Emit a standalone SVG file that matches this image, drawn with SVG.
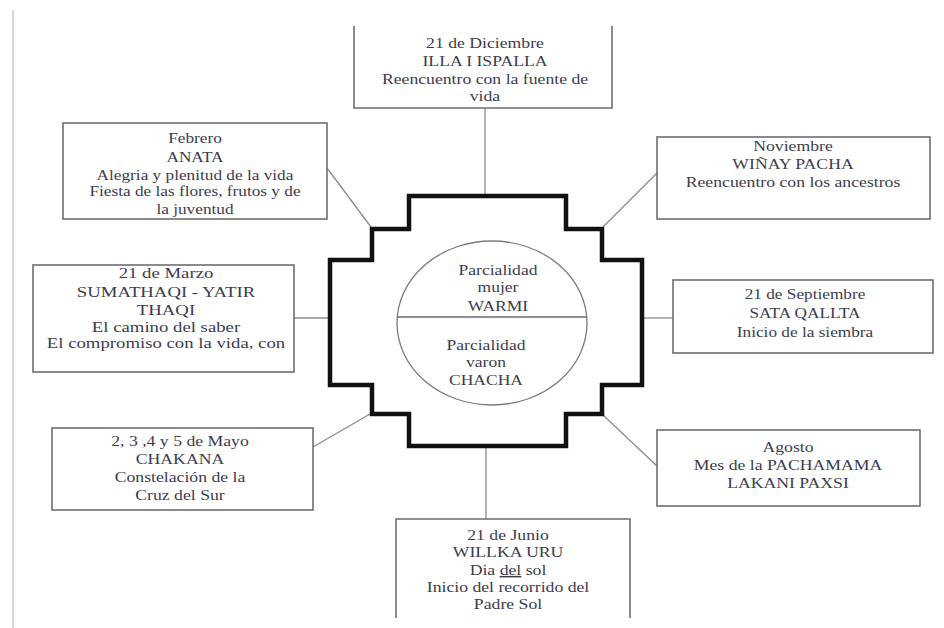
<svg xmlns="http://www.w3.org/2000/svg" width="944" height="628" viewBox="0 0 944 628">
<style>
.box{fill:#fff;stroke:#6e6e72;stroke-width:1.6}
.open{fill:none;stroke:#6e6e72;stroke-width:1.6}
.conn{stroke:#8a8a90;stroke-width:1.3;fill:none}
.t{font-family:"Liberation Serif","Times New Roman",serif;font-size:15px;fill:#3c3c4e;text-anchor:middle}
.chakana{fill:#fff;stroke:#111;stroke-width:4.5;stroke-linejoin:miter}
</style>
<rect x="0" y="0" width="944" height="628" fill="#fff"/>
<line x1="13" y1="10" x2="13" y2="628" stroke="#c8c8cc" stroke-width="1.5"/>

<g id="connectors">
<line class="conn" x1="485" y1="108" x2="485" y2="196"/>
<line class="conn" x1="327" y1="168" x2="371" y2="227"/>
<line class="conn" x1="658" y1="172" x2="603" y2="227"/>
<line class="conn" x1="294" y1="318" x2="330" y2="318"/>
<line class="conn" x1="642" y1="318" x2="673" y2="318"/>
<line class="conn" x1="370" y1="414" x2="313" y2="447"/>
<line class="conn" x1="603" y1="415" x2="657" y2="466"/>
<line class="conn" x1="486" y1="446" x2="486" y2="519"/>
</g>

<g id="chakana">
<path class="chakana" d="M409,196 H566 V229 H602 V260 H642 V385 H602 V414 H566 V446 H409 V414 H372 V385 H330 V260 H372 V229 H409 Z"/>
</g>

<g id="center">
<ellipse cx="492" cy="323" rx="95" ry="82" fill="#fff" stroke="#7a7a80" stroke-width="1.3"/>
<line x1="397" y1="317" x2="587" y2="317" stroke="#6a6a70" stroke-width="1.3"/>
<g transform="translate(498 0) scale(1.17 1)">
<text class="t" x="0" y="275">Parcialidad</text>
<text class="t" x="0" y="292">mujer</text>
<text class="t" x="0" y="311">WARMI</text>
</g>
<g transform="translate(486 0) scale(1.17 1)">
<text class="t" x="0" y="350">Parcialidad</text>
<text class="t" x="0" y="367">varon</text>
<text class="t" x="0" y="385">CHACHA</text>
</g>
</g>

<g id="diciembre">
<path class="open" d="M354,26 V108 H612 V26"/>
<g transform="translate(485 0) scale(1.18 1)">
<text class="t" x="0" y="48">21 de Diciembre</text>
<text class="t" x="0" y="66">ILLA I ISPALLA</text>
<text class="t" x="0" y="84">Reencuentro con la fuente de</text>
<text class="t" x="0" y="101">vida</text>
</g>
</g>

<g id="febrero">
<rect class="box" x="63" y="123" width="264" height="96"/>
<g transform="translate(195 0) scale(1.15 1)">
<text class="t" x="0" y="143">Febrero</text>
<text class="t" x="0" y="162">ANATA</text>
<text class="t" x="0" y="180">Alegria y plenitud de la vida</text>
<text class="t" x="0" y="196">Fiesta de las flores, frutos y de</text>
<text class="t" x="0" y="214">la juventud</text>
</g>
</g>

<g id="noviembre">
<rect class="box" x="657" y="137" width="273" height="82"/>
<g transform="translate(793 0) scale(1.18 1)">
<text class="t" x="0" y="151">Noviembre</text>
<text class="t" x="0" y="169">WIÑAY PACHA</text>
<text class="t" x="0" y="187">Reencuentro con los ancestros</text>
</g>
</g>

<g id="marzo">
<rect class="box" x="33" y="265" width="261" height="107"/>
<g transform="translate(166 0) scale(1.25 1)">
<text class="t" x="0" y="278">21 de Marzo</text>
<text class="t" x="0" y="297">SUMATHAQI - YATIR</text>
<text class="t" x="0" y="315">THAQI</text>
<text class="t" x="0" y="332">El camino del saber</text>
<text class="t" x="0" y="348">El compromiso con la vida, con</text>
</g>
</g>

<g id="septiembre">
<rect class="box" x="673" y="280" width="260" height="73"/>
<g transform="translate(805 0) scale(1.15 1)">
<text class="t" x="0" y="299">21 de Septiembre</text>
<text class="t" x="0" y="318">SATA QALLTA</text>
<text class="t" x="0" y="337">Inicio de la siembra</text>
</g>
</g>

<g id="mayo">
<rect class="box" x="52" y="428" width="261" height="82"/>
<g transform="translate(180 0) scale(1.18 1)">
<text class="t" x="0" y="446">2, 3 ,4 y 5 de Mayo</text>
<text class="t" x="0" y="464">CHAKANA</text>
<text class="t" x="0" y="482">Constelación de la</text>
<text class="t" x="0" y="500">Cruz del Sur</text>
</g>
</g>

<g id="agosto">
<rect class="box" x="657" y="430" width="263" height="76"/>
<g transform="translate(788 0) scale(1.18 1)">
<text class="t" x="0" y="452">Agosto</text>
<text class="t" x="0" y="470">Mes de la PACHAMAMA</text>
<text class="t" x="0" y="488">LAKANI PAXSI</text>
</g>
</g>

<g id="junio">
<path class="open" d="M396,618 V519 H630 V618"/>
<g transform="translate(508 0) scale(1.18 1)">
<text class="t" x="0" y="540">21 de Junio</text>
<text class="t" x="0" y="557">WILLKA URU</text>
<text class="t" x="0" y="575">Dia <tspan text-decoration="underline">del</tspan> sol</text>
<text class="t" x="0" y="592">Inicio del recorrido del</text>
<text class="t" x="0" y="609">Padre Sol</text>
</g>
</g>
</svg>
